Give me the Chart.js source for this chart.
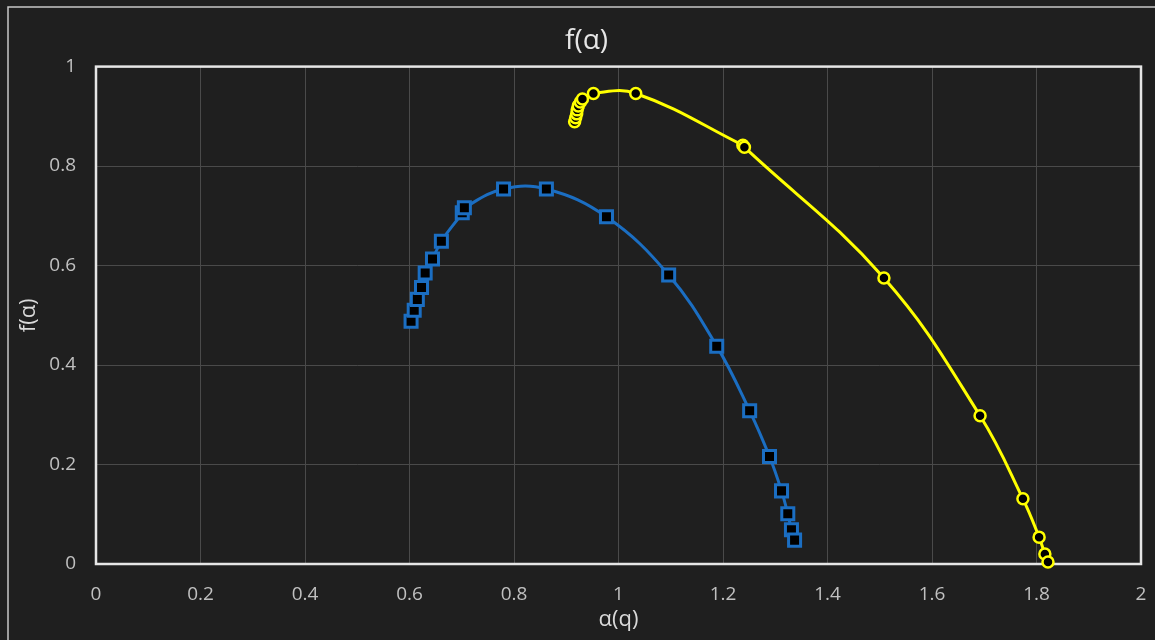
<!DOCTYPE html>
<html>
<head>
<meta charset="utf-8">
<script src="https://cdn.jsdelivr.net/npm/chart.js@4/dist/chart.umd.min.js"></script>
<style>
  html, body { margin: 0; padding: 0; background: #1f1f1f; overflow: hidden; }
  #wrap { width: 1155px; height: 640px; position: relative; }
</style>
</head>
<body>
<div id="wrap"><canvas id="spectrumChart" width="1155" height="640"></canvas></div>
<script>
// f(alpha) spectrum, two series
const blueAlpha = [0.603, 0.609, 0.615, 0.623, 0.630, 0.644, 0.661, 0.701, 0.705, 0.780,
  0.862, 0.977, 1.096, 1.188, 1.251, 1.289, 1.312, 1.324, 1.331, 1.337];
const blueF = [0.488, 0.510, 0.532, 0.556, 0.585, 0.613, 0.649, 0.706, 0.716, 0.754,
  0.754, 0.698, 0.581, 0.438, 0.308, 0.216, 0.147, 0.101, 0.069, 0.048];

const yellowAlpha = [0.916, 0.918, 0.920, 0.921, 0.923, 0.927, 0.931, 0.952, 1.033, 1.238,
  1.241, 1.508, 1.692, 1.774, 1.805, 1.816, 1.822];
const yellowF = [0.889, 0.897, 0.905, 0.913, 0.921, 0.929, 0.935, 0.946, 0.946, 0.842,
  0.838, 0.575, 0.298, 0.131, 0.054, 0.020, 0.004];

const xTicks = [0, 0.2, 0.4, 0.6, 0.8, 1, 1.2, 1.4, 1.6, 1.8, 2];
const yTicks = [0, 0.2, 0.4, 0.6, 0.8, 1];

const toPoints = (xs, ys) => xs.map((x, i) => ({ x: x, y: ys[i] }));

// outer frame of the picture and the box round the plot area
const framePlugin = {
  id: "frames",
  beforeDraw(chart) {
    const c = chart.ctx;
    c.save();
    c.strokeStyle = "#c8c8c8";
    c.lineWidth = 1.5;
    c.beginPath();
    c.moveTo(8, 640);
    c.lineTo(8, 7);
    c.lineTo(1155, 7);
    c.stroke();
    c.restore();
  },
  beforeDatasetsDraw(chart) {
    const a = chart.chartArea;
    const c = chart.ctx;
    c.save();
    c.strokeStyle = "#e6e6e6";
    c.lineWidth = 2.5;
    c.strokeRect(a.left, a.top, a.right - a.left, a.bottom - a.top);
    c.restore();
  },
};

const font = "'Open Sans', 'Noto Sans', sans-serif";

new Chart(document.getElementById("spectrumChart").getContext("2d"), {
  type: "scatter",
  data: {
    datasets: [
      {
        label: "blue",
        data: toPoints(blueAlpha, blueF),
        showLine: true,
        borderColor: "#1b6ec2",
        backgroundColor: "#000000",
        borderWidth: 3,
        pointStyle: "rect",
        pointRadius: 8.5,
        pointBorderWidth: 3,
        pointBorderColor: "#1b6ec2",
        pointBackgroundColor: "#000000",
        tension: 0.4,
        clip: false,
      },
      {
        label: "yellow",
        data: toPoints(yellowAlpha, yellowF),
        showLine: true,
        borderColor: "#ffff00",
        backgroundColor: "#000000",
        borderWidth: 3,
        pointStyle: "circle",
        pointRadius: 5.5,
        pointBorderWidth: 2.5,
        pointBorderColor: "#ffff00",
        pointBackgroundColor: "#000000",
        tension: 0.4,
        clip: false,
      },
    ],
  },
  options: {
    responsive: false,
    animation: false,
    layout: { padding: { left: 18, right: 0, top: 0, bottom: 0 } },
    plugins: {
      legend: { display: false },
      tooltip: { enabled: false },
      title: {
        display: true,
        text: "f(α)",
        color: "#e6e6e6",
        font: { family: font, size: 28, weight: "normal", lineHeight: 1.2 },
        padding: { top: 24, bottom: 9 },
      },
    },
    scales: {
      x: {
        type: "linear",
        min: 0,
        max: 2,
        afterBuildTicks: (s) => { s.ticks = xTicks.map((v) => ({ value: v })); },
        afterFit: (s) => {
          s.height = 76;
          s.paddingLeft = 0;
          s.paddingRight = 14;
        },
        grid: { color: "#4a4a4a", lineWidth: 1, drawTicks: false },
        border: { display: false },
        ticks: {
          color: "#c0c0c0",
          padding: 19,
          font: { family: font, size: 19 },
          callback: (v) => String(+v.toFixed(1)),
        },
        title: {
          display: true,
          text: "α(q)",
          color: "#d9d9d9",
          font: { family: font, size: 22 },
          padding: { top: 0, bottom: 7 },
        },
      },
      y: {
        type: "linear",
        min: 0,
        max: 1,
        afterBuildTicks: (s) => { s.ticks = yTicks.map((v) => ({ value: v })); },
        afterFit: (s) => { s.width = 78; },
        grid: { color: "#4a4a4a", lineWidth: 1, drawTicks: false },
        border: { display: false },
        ticks: {
          color: "#c0c0c0",
          padding: 20,
          font: { family: font, size: 19 },
          callback: (v) => String(+v.toFixed(1)),
        },
        title: {
          display: true,
          text: "f(α)",
          color: "#d9d9d9",
          font: { family: font, size: 22, lineHeight: 1 },
          padding: { top: 0, bottom: 0 },
        },
      },
    },
  },
  plugins: [framePlugin],
});
</script>
</body>
</html>
